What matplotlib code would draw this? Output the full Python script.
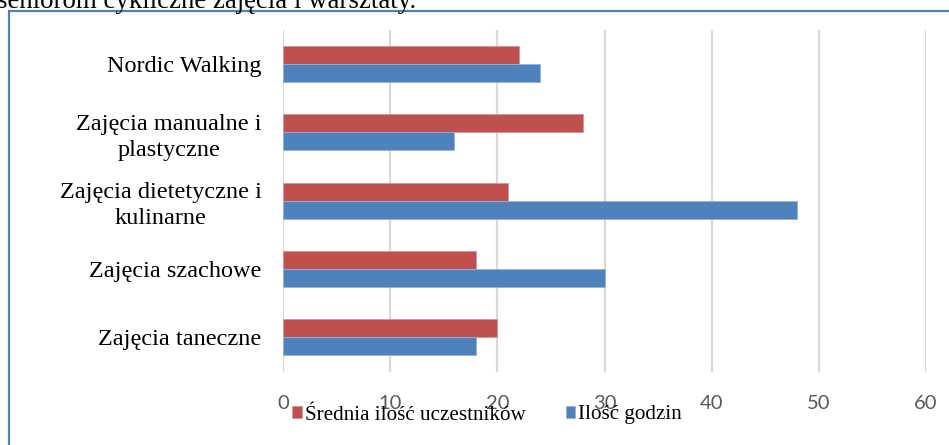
import matplotlib
matplotlib.use("Agg")
import matplotlib.pyplot as plt
from matplotlib.lines import Line2D
import numpy as np

# Data (top to bottom as shown)
categories = [
    "Nordic Walking",
    "Zajęcia manualne i\nplastyczne",
    "Zajęcia dietetyczne i\nkulinarne",
    "Zajęcia szachowe",
    "Zajęcia taneczne",
]
uczestnicy = [22, 28, 21, 18, 20]   # Średnia ilość uczestników
godziny = [24, 16, 48, 30, 18]      # Ilość godzin
xticks = [0, 10, 20, 30, 40, 50, 60]

RED = "#C0504D"
BLUE = "#4F81BD"
GRID = "#D9D9D9"
SERIF = "Liberation Serif"

W, H = 949, 445
fig = plt.figure(figsize=(W / 100, H / 100), dpi=100)

def fx(px):
    return px / W

def fy(py):
    return 1 - py / H

# chart frame: left and top edges (the rest lies outside the canvas)
frame_kw = dict(transform=fig.transFigure, color=BLUE, linewidth=1.6,
                solid_capstyle="butt")
fig.add_artist(Line2D([fx(9), fx(9)], [fy(10.5), 0], **frame_kw))
fig.add_artist(Line2D([fx(8.2), 1], [fy(11), fy(11)], **frame_kw))

# caption line cut off at the top
fig.text(fx(-3), fy(7.5), "seniorom cykliczne zajęcia i warsztaty.",
         family=SERIF, fontsize=19.4, color="black", ha="left",
         va="baseline")

ax = fig.add_axes([fx(283), fy(371.5), fx(926) - fx(283), fy(30) - fy(371.5)])

n = len(categories)
y = np.arange(n)[::-1].astype(float)
h = 0.264
b_red = ax.barh(y + h / 2, uczestnicy, height=h, color=RED,
                edgecolor="#D99694", linewidth=0.6, zorder=3,
                label="Średnia ilość uczestników")
b_blue = ax.barh(y - h / 2, godziny, height=h, color=BLUE,
                 edgecolor="#95B3D7", linewidth=0.6, zorder=3,
                 label="Ilość godzin")

ax.set_xlim(0, 60)
ax.set_ylim(-0.5, n - 0.5)
ax.set_xticks(xticks)
ax.set_xticklabels([str(t) for t in xticks], family="Lato", fontsize=14.5,
                   color="#595959")
ax.set_yticks(y)
ax.set_yticklabels(categories, family=SERIF, fontsize=17.5, color="black",
                   multialignment="center", linespacing=1.3)
ax.tick_params(axis="both", length=0)
ax.tick_params(axis="x", pad=17)
ax.tick_params(axis="y", pad=15.5)
ax.grid(axis="x", color=GRID, linewidth=1.6, zorder=0)
for s in ax.spines.values():
    s.set_visible(False)
ax.set_facecolor("none")

fig.legend(handles=[b_red, b_blue],
           labels=["Średnia ilość uczestników", "Ilość godzin"],
           loc="center", bbox_to_anchor=(fx(487), fy(415)), ncol=2,
           frameon=False, prop={"family": SERIF, "size": 15.2},
           handlelength=0.45, handleheight=0.45, handletextpad=0.15,
           columnspacing=1.9, borderpad=0)

fig.savefig("out.png", dpi=100)
